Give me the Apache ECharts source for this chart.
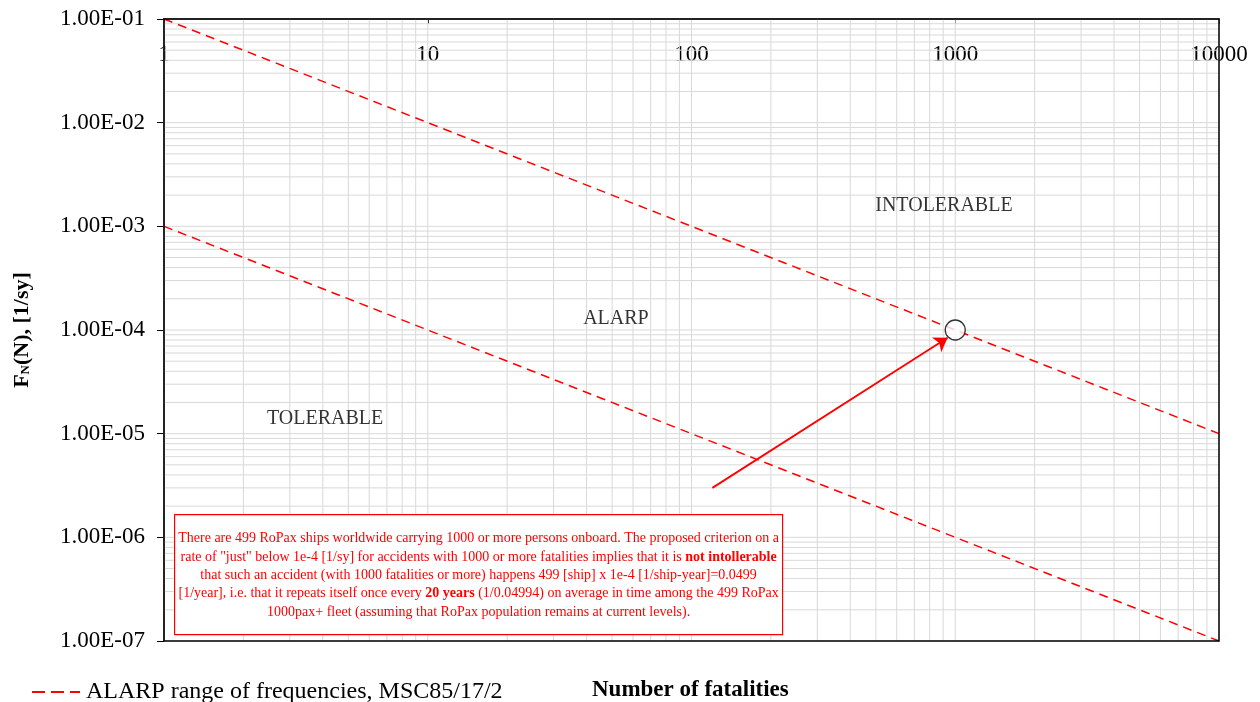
<!DOCTYPE html>
<html><head><meta charset="utf-8">
<script src="https://cdn.jsdelivr.net/npm/echarts@6/dist/echarts.min.js"></script>
<style>html,body{margin:0;padding:0;background:#fff}#c{width:1260px;height:702px}</style>
</head><body><div id="c"></div>
<script>
// ---- data ----
var xRange = [1, 10000];
var yRange = [1e-7, 1e-1];
var upperLine = [[1, 1e-1], [10000, 1e-5]];
var lowerLine = [[1, 1e-3], [10000, 1e-7]];
var markerPoint = [[1000, 1e-4]];
var arrowFrom = [120, 3.0e-6];
var arrowTo = [935, 8.4e-5];
var regionLabels = [
  {name: 'INTOLERABLE', value: [906, 1.58e-3]},
  {name: 'ALARP', value: [51.7, 1.28e-4]},
  {name: 'TOLERABLE', value: [4.08, 1.38e-5]}
];
var legendName = 'ALARP range of frequencies, MSC85/17/2';
var xTitle = 'Number of fatalities';
var noteLines = [
  'There are 499 RoPax ships worldwide carrying 1000 or more persons onboard. The proposed criterion on a',
  'rate of "just" below 1e-4 [1/sy] for accidents with 1000 or more fatalities implies that it is {b|not intollerable}',
  'that such an accident (with 1000 fatalities or more) happens 499 [ship] x 1e-4 [1/ship-year]=0.0499',
  '[1/year], i.e. that it repeats itself once every {b|20 years} (1/0.04994) on average in time among the 499 RoPax',
  '1000pax+ fleet (assuming that RoPax population remains at current levels).'
];

// grid line values (each decade, 1..9)
function decadeLines(lo, hi) {
  var out = [];
  for (var e = Math.round(Math.log10(lo)); e < Math.round(Math.log10(hi)); e++) {
    for (var m = 1; m <= 9; m++) out.push(m * Math.pow(10, e));
  }
  out.push(hi);
  return out;
}
var xGrid = decadeLines(xRange[0], xRange[1]);
var yGrid = decadeLines(yRange[0], yRange[1]);

var FONT = '"Liberation Serif", "Times New Roman", serif';
var RED = '#ff0000';

function yFmt(v) {
  var e = Math.round(Math.log10(v));
  var s = Math.abs(e) < 10 ? '0' + Math.abs(e) : '' + Math.abs(e);
  return '1.00E' + (e < 0 ? '-' : '+') + s;
}

// grid data: [x, y, orientation(0=vertical,1=horizontal)]
var gridData = xGrid.map(function (v) { return [v, yRange[0], 0]; })
  .concat(yGrid.map(function (v) { return [xRange[0], v, 1]; }));

var chart = echarts.init(document.getElementById('c'));

chart.setOption({
  animation: false,
  backgroundColor: '#fff',
  textStyle: {fontFamily: FONT},
  grid: {left: 164, right: 41, top: 19, bottom: 61, show: true, borderColor: '#000', borderWidth: 1.5, backgroundColor: 'transparent', z: 5},
  legend: {
    data: [legendName], left: 26, top: 675, itemWidth: 48, itemHeight: 14,
    itemStyle: {opacity: 0},
    lineStyle: {color: RED, width: 2, type: [13, 6]},
    textStyle: {fontFamily: FONT, fontSize: 24, color: '#000', padding: [0, 0, 0, 1]}
  },
  xAxis: {
    type: 'log', logBase: 10, min: xRange[0], max: xRange[1], position: 'top',
    axisLine: {show: true, lineStyle: {color: '#000', width: 1.5}},
    axisTick: {show: true, inside: true, length: 5, lineStyle: {color: '#000'}},
    axisLabel: {inside: true, margin: 24, fontFamily: FONT, fontSize: 23, color: '#000', formatter: function (v) { return '' + Math.round(v); }},
    splitLine: {show: false}
  },
  yAxis: {
    type: 'log', logBase: 10, min: yRange[0], max: yRange[1],
    axisLine: {show: true, lineStyle: {color: '#000', width: 1.5}},
    axisTick: {show: true, inside: false, length: 7, lineStyle: {color: '#000'}},
    axisLabel: {margin: 19, fontFamily: FONT, fontSize: 23, color: '#000', formatter: yFmt},
    splitLine: {show: false},
    name: '{a|F}{s|N}{a|(N), [1/sy]}', nameLocation: 'middle', nameGap: 131, nameRotate: 90,
    nameTextStyle: {rich: {
      a: {fontFamily: FONT, fontSize: 22, fontWeight: 'bold', color: '#000'},
      s: {fontFamily: FONT, fontSize: 13, fontWeight: 'bold', color: '#000', padding: [8, 0, 0, 0]}
    }}
  },
  series: [
    {
      type: 'custom', silent: true, data: gridData, z: 1, clip: false,
      renderItem: function (params, api) {
        var o = api.value(2);
        var p1, p2;
        if (o === 0) {
          p1 = api.coord([api.value(0), yRange[0]]);
          p2 = api.coord([api.value(0), yRange[1]]);
        } else {
          p1 = api.coord([xRange[0], api.value(1)]);
          p2 = api.coord([xRange[1], api.value(1)]);
        }
        return {type: 'line', shape: {x1: p1[0], y1: p1[1], x2: p2[0], y2: p2[1]},
          style: {stroke: '#d9d9d9', lineWidth: 1}};
      }
    },
    {
      name: legendName, type: 'line', data: upperLine, symbol: 'none',
      lineStyle: {color: RED, width: 1.5, type: [9, 6]}, itemStyle: {color: RED}, z: 3
    },
    {
      name: legendName, type: 'line', data: lowerLine, symbol: 'none',
      lineStyle: {color: RED, width: 1.5, type: [9, 6]}, itemStyle: {color: RED}, z: 3
    },
    {
      type: 'line', data: [], symbol: 'none',
      markLine: {silent: true, symbol: ['none', 'arrow'], symbolSize: 13, label: {show: false},
        lineStyle: {color: RED, width: 1.8, type: 'solid'},
        data: [[{coord: arrowFrom}, {coord: arrowTo}]]},
      z: 4
    },
    {
      type: 'scatter', data: markerPoint, symbol: 'circle', symbolSize: 20,
      itemStyle: {color: '#fff', borderColor: '#000', borderWidth: 1.3}, z: 5
    },
    {
      type: 'scatter', data: regionLabels, symbolSize: 0,
      label: {show: true, position: 'inside', formatter: '{b}', fontFamily: FONT, fontSize: 20,
        color: '#000', textBorderWidth: 0},
      z: 5
    }
  ],
  graphic: {
    z: 100,
    elements: [
      {
        type: 'group', left: 174, top: 514, z: 100,
        children: [
          {type: 'rect', z: 100, shape: {x: 0, y: 0, width: 608, height: 120},
            style: {fill: '#fff', stroke: RED, lineWidth: 1.2}},
          {type: 'text', z: 101, x: 304, y: 15,
            style: {
              text: noteLines.join('\n'), fill: RED, fontFamily: FONT, fontSize: 14,
              align: 'center', verticalAlign: 'top', lineHeight: 18.3,
              rich: {b: {fontWeight: 'bold', fill: RED, fontFamily: FONT, fontSize: 14, lineHeight: 18.3}}
            }}
        ]
      },
      {
        type: 'text', left: 592, top: 679, z: 100,
        style: {text: xTitle, fill: '#000', fontFamily: FONT, fontSize: 23, fontWeight: 'bold'}
      }
    ]
  }
});
</script>
</body></html>
